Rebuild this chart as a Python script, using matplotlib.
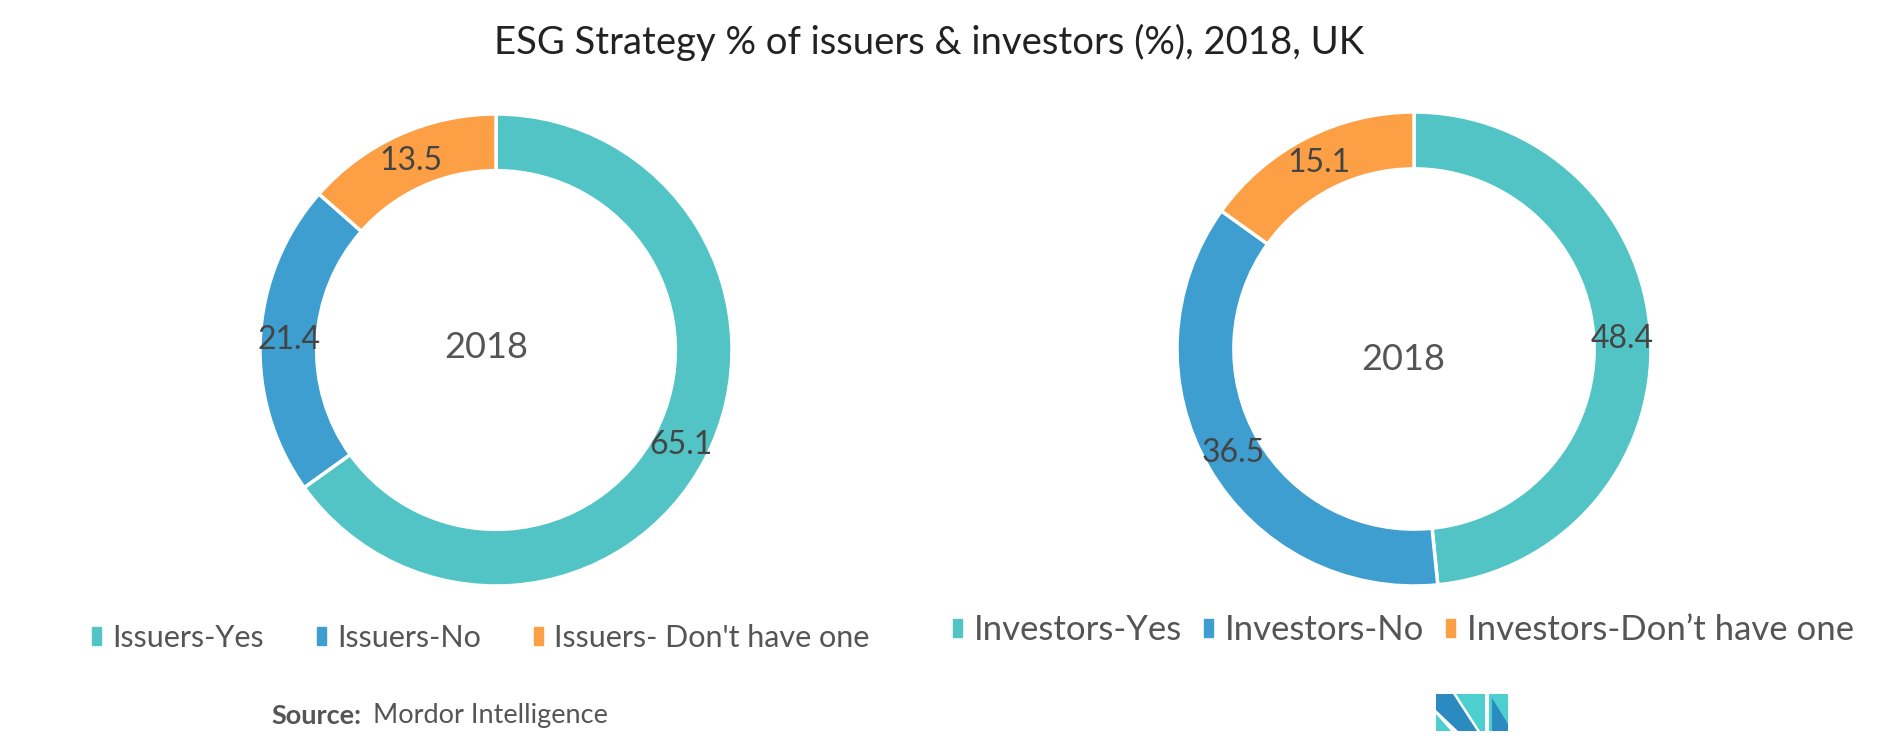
import matplotlib.pyplot as plt
from matplotlib.patches import Patch, Polygon

plt.rcParams['font.family'] = ['Lato', 'DejaVu Sans']

# data
issuer_labels = ["Issuers-Yes", "Issuers-No", "Issuers- Don't have one"]
issuer_values = [65.1, 21.4, 13.5]
investor_labels = ["Investors-Yes", "Investors-No", "Investors-Don\u2019t have one"]
investor_values = [48.4, 36.5, 15.1]
year = "2018"

colors = ["#53c4c6", "#3e9ecf", "#fd9f45"]
W, H = 1882, 751

fig = plt.figure(figsize=(W / 100, H / 100), dpi=100)


def donut(cx, cy, r, values, center_xy):
    ax = fig.add_axes([(cx - r) / W, 1 - (cy + r) / H, 2 * r / W, 2 * r / H])
    ax.pie(values, colors=colors, startangle=90, counterclock=False,
           autopct=lambda p: f"{p:.1f}", pctdistance=0.88,
           wedgeprops=dict(width=0.24, edgecolor="white", linewidth=2.5),
           textprops=dict(color="#444444", fontsize=23))
    ax.set_xlim(-1, 1)
    ax.set_ylim(-1, 1)
    ax.text((center_xy[0] - cx) / r, -(center_xy[1] - cy) / r, year, ha="center", va="center",
            fontsize=26, color="#555555")
    ax.axis("off")


donut(496, 350, 236, issuer_values, (486, 347))
donut(1414, 349, 237, investor_values, (1403, 360))

fig.text(929 / W, 1 - 42 / H, "ESG Strategy % of issuers & investors (%), 2018, UK",
         ha="center", va="center", fontsize=27.5, color="#222222")

hl = [Patch(color=c) for c in colors]
fig.legend(hl, issuer_labels, ncol=3, loc="center left", bbox_to_anchor=(92 / W, 1 - 638 / H),
           frameon=False, fontsize=22, labelcolor="#555555", handlelength=0.3, handleheight=0.5,
           handletextpad=0.35, columnspacing=1.75, borderpad=0, borderaxespad=0)
fig.legend(hl, investor_labels, ncol=3, loc="center left", bbox_to_anchor=(953 / W, 1 - 630 / H),
           frameon=False, fontsize=25, labelcolor="#555555", handlelength=0.26, handleheight=0.42,
           handletextpad=0.35, columnspacing=0.62, borderpad=0, borderaxespad=0)

fig.text(271 / W, 1 - 716 / H, "Source:", fontsize=19.5, fontweight="bold", color="#555555", va="center")
fig.text(373 / W, 1 - 716 / H, "Mordor Intelligence", fontsize=19.5, color="#555555", va="center")


# logo
def fpoly(pts, c):
    fig.patches.append(Polygon([(x / W, 1 - y / H) for x, y in pts], closed=True,
                               transform=fig.transFigure, color=c, lw=0))


dark, light = "#2b8bc0", "#4dcfd0"
fpoly([(1436, 694), (1453, 694), (1477, 731), (1458, 731), (1436, 710)], dark)
fpoly([(1436, 714), (1436, 731), (1451, 731)], light)
fpoly([(1456, 694), (1485, 694), (1485, 731), (1480, 731)], light)
fpoly([(1489, 694), (1508, 694), (1508, 731), (1489, 731)], light)
fpoly([(1492, 698), (1508, 724), (1508, 731), (1492, 731)], dark)

fig.savefig("out.png", dpi=100)
